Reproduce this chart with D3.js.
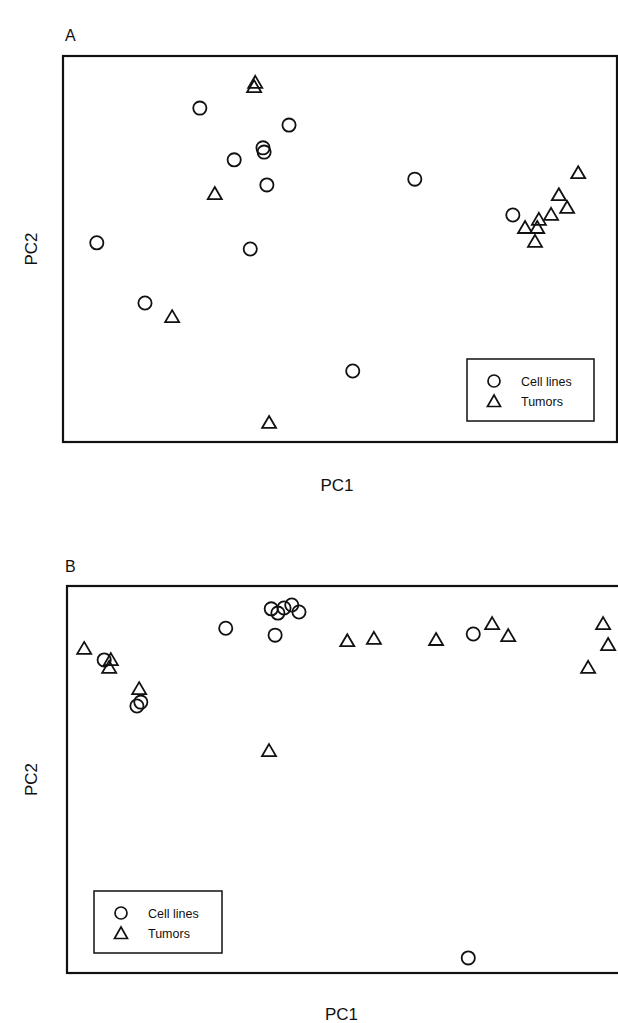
<!DOCTYPE html>
<html><head><meta charset="utf-8">
<script src="https://cdn.jsdelivr.net/npm/d3@7"></script>
<style>body{margin:0;background:#fff}svg{display:block}</style>
</head><body>
<script>
// Panel A data (PC1, PC2 in normalized plot units 0-100)
const aCellX = [24.7,40.8,36.1,36.3,30.9,36.8,6.1,33.8,14.8,52.3,63.5,81.2];
const aCellY = [86.5,82.1,76.2,75.1,73.1,66.6,51.6,50.0,36.0,18.4,68.1,58.8];
const aTumX = [34.7,34.5,27.4,19.7,37.2,93.0,89.5,91.0,88.1,85.9,85.6,83.4,85.2];
const aTumY = [93.3,92.2,64.5,32.6,5.2,69.9,64.2,60.9,59.1,57.8,55.7,55.7,52.1];
// Panel B data
const bCellX = [36.8,38.0,39.1,40.5,41.8,37.5,28.6,6.7,13.3,12.6,73.2,72.3];
const bCellY = [94.1,93.0,94.3,95.1,93.3,87.3,89.1,80.9,70.0,69.0,87.6,3.9];
const bTumX = [3.1,7.9,7.6,13.0,36.4,50.5,55.3,66.5,76.6,79.5,96.6,97.5,93.9];
const bTumY = [84.0,81.1,79.1,73.6,57.6,86.0,86.6,86.3,90.4,87.3,90.4,85.0,79.1];
const legendLabels = ["Cell lines","Tumors"];

const W = 618, H = 1023;
const svg = d3.select("body").append("svg").attr("width",W).attr("height",H)
  .style("font-family","'Liberation Sans', Arial, sans-serif");

function tri(cx, cy){
  const hw = 7, hh = 6;
  return `M${cx},${cy-hh}L${cx+hw},${cy+hh}L${cx-hw},${cy+hh}Z`;
}

function panel(opt){
  const g = svg.append("g");
  const x = d3.scaleLinear().domain([0,100]).range([opt.x0, opt.x1]);
  const y = d3.scaleLinear().domain([0,100]).range([opt.y1, opt.y0]);
  g.append("rect").attr("x",opt.x0).attr("y",opt.y0)
    .attr("width",opt.x1-opt.x0).attr("height",opt.y1-opt.y0)
    .attr("fill","none").attr("stroke","#111").attr("stroke-width",2.2);
  const cells = opt.cx.map((v,i)=>({x:v,y:opt.cy[i]}));
  const tums = opt.tx.map((v,i)=>({x:v,y:opt.ty[i]}));
  g.selectAll("circle.c").data(cells).join("circle")
    .attr("cx",d=>x(d.x)).attr("cy",d=>y(d.y)).attr("r",6.6)
    .attr("fill","none").attr("stroke","#111").attr("stroke-width",1.8);
  g.selectAll("path.t").data(tums).join("path")
    .attr("d",d=>tri(x(d.x),y(d.y)))
    .attr("fill","none").attr("stroke","#111").attr("stroke-width",1.8).attr("stroke-linejoin","miter");
  g.append("text").attr("x",opt.lx).attr("y",opt.ly).text(opt.label)
    .attr("font-size",16).attr("fill","#111");
  g.append("text").attr("x",(opt.x0+opt.x1)/2 - 3).attr("y",opt.pc1y).text("PC1")
    .attr("font-size",17).attr("text-anchor","middle").attr("fill","#111");
  g.append("text").attr("transform",`translate(${opt.pc2x},${(opt.y0+opt.y1)/2}) rotate(-90)`)
    .text("PC2").attr("font-size",17).attr("text-anchor","middle").attr("fill","#111");
  const L = opt.leg;
  g.append("rect").attr("x",L.x).attr("y",L.y).attr("width",L.w).attr("height",L.h)
    .attr("fill","#fff").attr("stroke","#111").attr("stroke-width",1.5);
  legendLabels.forEach((t,i)=>{
    const cy = L.y + 22 + i*20;
    if(i===0) g.append("circle").attr("cx",L.x+27).attr("cy",cy).attr("r",6)
      .attr("fill","none").attr("stroke","#111").attr("stroke-width",1.7);
    else g.append("path").attr("d",`M${L.x+27},${cy-6}L${L.x+33.5},${cy+5.5}L${L.x+20.5},${cy+5.5}Z`)
      .attr("fill","none").attr("stroke","#111").attr("stroke-width",1.7);
    g.append("text").attr("x",L.x+54).attr("y",cy+4.5).text(t)
      .attr("font-size",12.5).attr("fill","#111");
  });
}

panel({x0:63,x1:617,y0:56,y1:442,cx:aCellX,cy:aCellY,tx:aTumX,ty:aTumY,
  label:"A",lx:65,ly:41,pc1y:491,pc2x:37,
  leg:{x:467,y:359,w:127,h:62}});
panel({x0:67,x1:622,y0:586,y1:973,cx:bCellX,cy:bCellY,tx:bTumX,ty:bTumY,
  label:"B",lx:65,ly:572,pc1y:1020,pc2x:37,
  leg:{x:94,y:891,w:128,h:62}});
</script>
</body></html>
